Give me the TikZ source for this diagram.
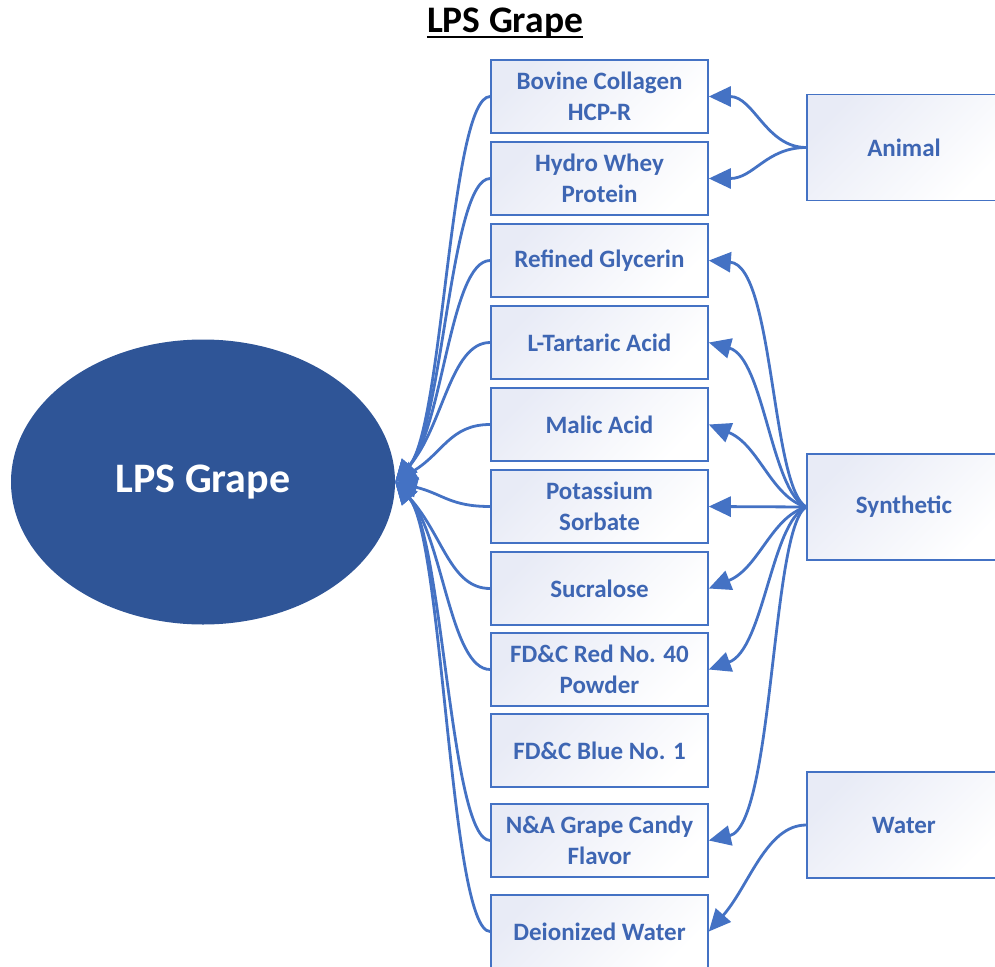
\documentclass[tikz,border=0pt]{standalone}
\usepackage{fontspec}
\setmainfont{Carlito}
\usetikzlibrary{arrows.meta,shapes.geometric}
\definecolor{lnc}{HTML}{4472C4}
\definecolor{txc}{HTML}{3E66B3}
\definecolor{ellc}{HTML}{2F5597}
\definecolor{bxl}{HTML}{E8EBF6}
\begin{document}
\begin{tikzpicture}[x=1pt,y=-1pt,
  box/.style={draw=lnc, line width=1.6pt, top color=bxl, bottom color=white, shading angle=45,
    minimum width=217pt, minimum height=73pt, inner sep=0pt, align=center, text=txc,
    font=\bfseries\fontsize{25}{31}\selectfont},
  rbox/.style={box, minimum width=194pt, minimum height=106pt},
  conn/.style={draw=lnc, line width=2.8pt, arrows={-Triangle[length=22pt,width=20pt]}}]
\useasboundingbox (0,0) rectangle (995,966);
\clip (0,0) rectangle (995,966);
% title
\node[inner sep=0pt, anchor=base, font=\bfseries\fontsize{37.5}{40}\selectfont] (title) at (505,33) {LPS Grape};
\draw[line width=2.8pt] ([yshift=-4pt]title.base west) -- ([yshift=-4pt]title.base east);
% ellipse
\node[ellipse, fill=ellc, minimum width=384pt, minimum height=285pt, inner sep=0pt, text=white,
  font=\bfseries\fontsize{42}{50}\selectfont] (lps) at (203,482) {LPS Grape};
% column boxes
\node[box] (b1) at (599.5,96.5) {Bovine Collagen\\HCP-R};
\node[box] (b2) at (599.5,178.5) {Hydro Whey\\Protein};
\node[box] (b3) at (599.5,260.5) {Refined Glycerin};
\node[box] (b4) at (599.5,342.5) {L-Tartaric Acid};
\node[box] (b5) at (599.5,424.5) {Malic Acid};
\node[box] (b6) at (599.5,506.5) {Potassium\\Sorbate};
\node[box] (b7) at (599.5,588.5) {Sucralose};
\node[box] (b8) at (599.5,669.5) {FD\&C Red No. 40\\Powder};
\node[box] (b9) at (599.5,750.5) {FD\&C Blue No. 1};
\node[box] (b10) at (599.5,840.5) {N\&A Grape Candy\\Flavor};
\node[box] (b11) at (599.5,931.5) {Deionized Water};
% source boxes
\node[rbox] (anim) at (904,147.5) {Animal};
\node[rbox] (syn) at (904,507) {Synthetic};
\node[rbox] (wat) at (904,825) {Water};
% connectors to ellipse
\draw[conn] (b1.west) .. controls +(-40,0) and +(48,-55) .. (lps.east);
\draw[conn] (b2.west) .. controls +(-40,0) and +(48,-55) .. (lps.east);
\draw[conn] (b3.west) .. controls +(-40,0) and +(48,-55) .. (lps.east);
\draw[conn] (b4.west) .. controls +(-40,0) and +(48,-55) .. (lps.east);
\draw[conn] (b5.west) .. controls +(-40,0) and +(48,-29) .. (lps.east);
\draw[conn] (b6.west) .. controls +(-40,0) and +(48,12) .. (lps.east);
\draw[conn] (b7.west) .. controls +(-40,0) and +(48,53) .. (lps.east);
\draw[conn] (b8.west) .. controls +(-40,0) and +(48,55) .. (lps.east);
\draw[conn] (b10.west) .. controls +(-40,0) and +(48,55) .. (lps.east);
\draw[conn] (b11.west) .. controls +(-40,0) and +(48,55) .. (lps.east);
% animal
\draw[conn] (anim.west) .. controls +(-40,0) and +(45,0) .. (b1.east);
\draw[conn] (anim.west) .. controls +(-40,0) and +(45,0) .. (b2.east);
% synthetic
\draw[conn] (syn.west) .. controls +(-35,-20) and +(65,5) .. (b3.east);
\draw[conn] (syn.west) .. controls +(-35,-15) and +(55,15) .. (b4.east);
\draw[conn] (syn.west) .. controls +(-35,-10) and +(50,20) .. (b5.east);
\draw[conn] (syn.west) -- (b6.east);
\draw[conn] (syn.west) .. controls +(-35,10) and +(50,-20) .. (b7.east);
\draw[conn] (syn.west) .. controls +(-35,15) and +(55,-20) .. (b8.east);
\draw[conn] (syn.west) .. controls +(-35,20) and +(65,-15) .. (b10.east);
% water
\draw[conn] (wat.west) .. controls +(-40,0) and +(40,-45) .. (b11.east);
\end{tikzpicture}
\end{document}
